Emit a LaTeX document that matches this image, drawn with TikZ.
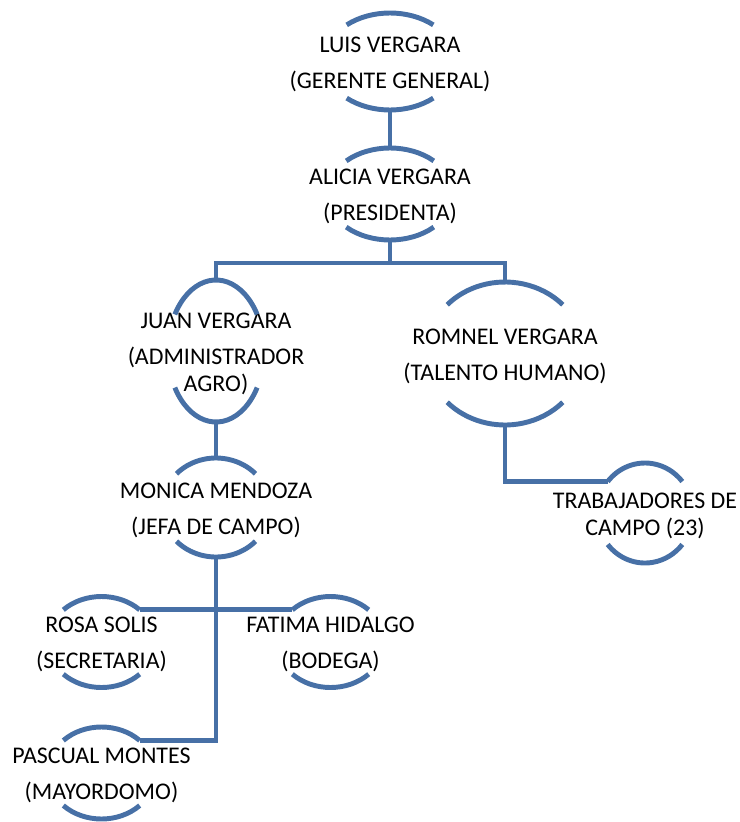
\documentclass[tikz,border=0pt]{standalone}
\usepackage{fontspec}
\setmainfont{Carlito}
\usetikzlibrary{calc}
\definecolor{orgblue}{RGB}{71,112,166}
\tikzset{
  orgline/.style={draw=orgblue, line width=3.5pt},
  person/.style={align=center, font=\fontsize{17}{25.5}\selectfont, inner sep=0pt},
}
% arcs above and below a person, plus named points for the connectors
\newcommand\bracketarcs[4]{%
  \coordinate (#1-c) at ($(#1.center)+(0,2.5)$);
  \draw[orgline] ($(#1-c)+(180-#4:#2 and #3)$) arc[start angle=180-#4, end angle=#4, x radius=#2, y radius=#3];
  \draw[orgline] ($(#1-c)+(180+#4:#2 and #3)$) arc[start angle=180+#4, end angle=360-#4, x radius=#2, y radius=#3];
  \coordinate (#1-n) at ($(#1-c)+(0,#3)$);
  \coordinate (#1-s) at ($(#1-c)+(0,-#3)$);
  \coordinate (#1-nw) at ($(#1-c)+(180-#4:#2 and #3)$);
  \coordinate (#1-ne) at ($(#1-c)+(#4:#2 and #3)$);
}
\begin{document}
\begin{tikzpicture}[x=0.025cm, y=0.025cm]
\useasboundingbox (0,0) rectangle (740,-822);
\node[person] (luis) at (390,-64) {LUIS VERGARA\\(GERENTE GENERAL)};
\node[person] (alicia) at (390,-196.5) {ALICIA VERGARA\\(PRESIDENTA)};
\node[person] (juan) at (216,-353.5) {JUAN VERGARA\\(ADMINISTRADOR\\[-6.3pt]AGRO)};
\node[person] (romnel) at (505,-356) {ROMNEL VERGARA\\(TALENTO HUMANO)};
\node[person] (trab) at (645,-515.5) {TRABAJADORES DE\\[-6.3pt]CAMPO (23)};
\node[person] (monica) at (216,-510) {MONICA MENDOZA\\(JEFA DE CAMPO)};
\node[person] (rosa) at (101.5,-644.5) {ROSA SOLIS\\(SECRETARIA)};
\node[person] (fatima) at (330.5,-644.5) {FATIMA HIDALGO\\(BODEGA)};
\node[person] (pascual) at (101.5,-775.5) {PASCUAL MONTES\\(MAYORDOMO)};
\bracketarcs{luis}{66}{48.5}{49}
\bracketarcs{alicia}{63}{46}{46}
\bracketarcs{juan}{48}{71}{31}
\bracketarcs{romnel}{79}{71.5}{43}
\bracketarcs{trab}{48}{50}{39}
\bracketarcs{monica}{54}{49.5}{43}
\bracketarcs{rosa}{54}{45.5}{45}
\bracketarcs{fatima}{54}{45.5}{45}
\bracketarcs{pascual}{54}{46}{45}
\coordinate (bus) at ($(alicia-s)+(0,-23)$);
\draw[orgline] (luis-s) -- (alicia-n);
\draw[orgline] (alicia-s) -- (bus);
\draw[orgline] (juan-n) |- (bus) -| (romnel-n);
\draw[orgline] (romnel-s) |- (trab-nw);
\draw[orgline] (juan-s) -- (monica-n);
\draw[orgline] (rosa-ne) -- (fatima-nw);
\draw[orgline] (monica-s) |- (pascual-ne);
\end{tikzpicture}
\end{document}
